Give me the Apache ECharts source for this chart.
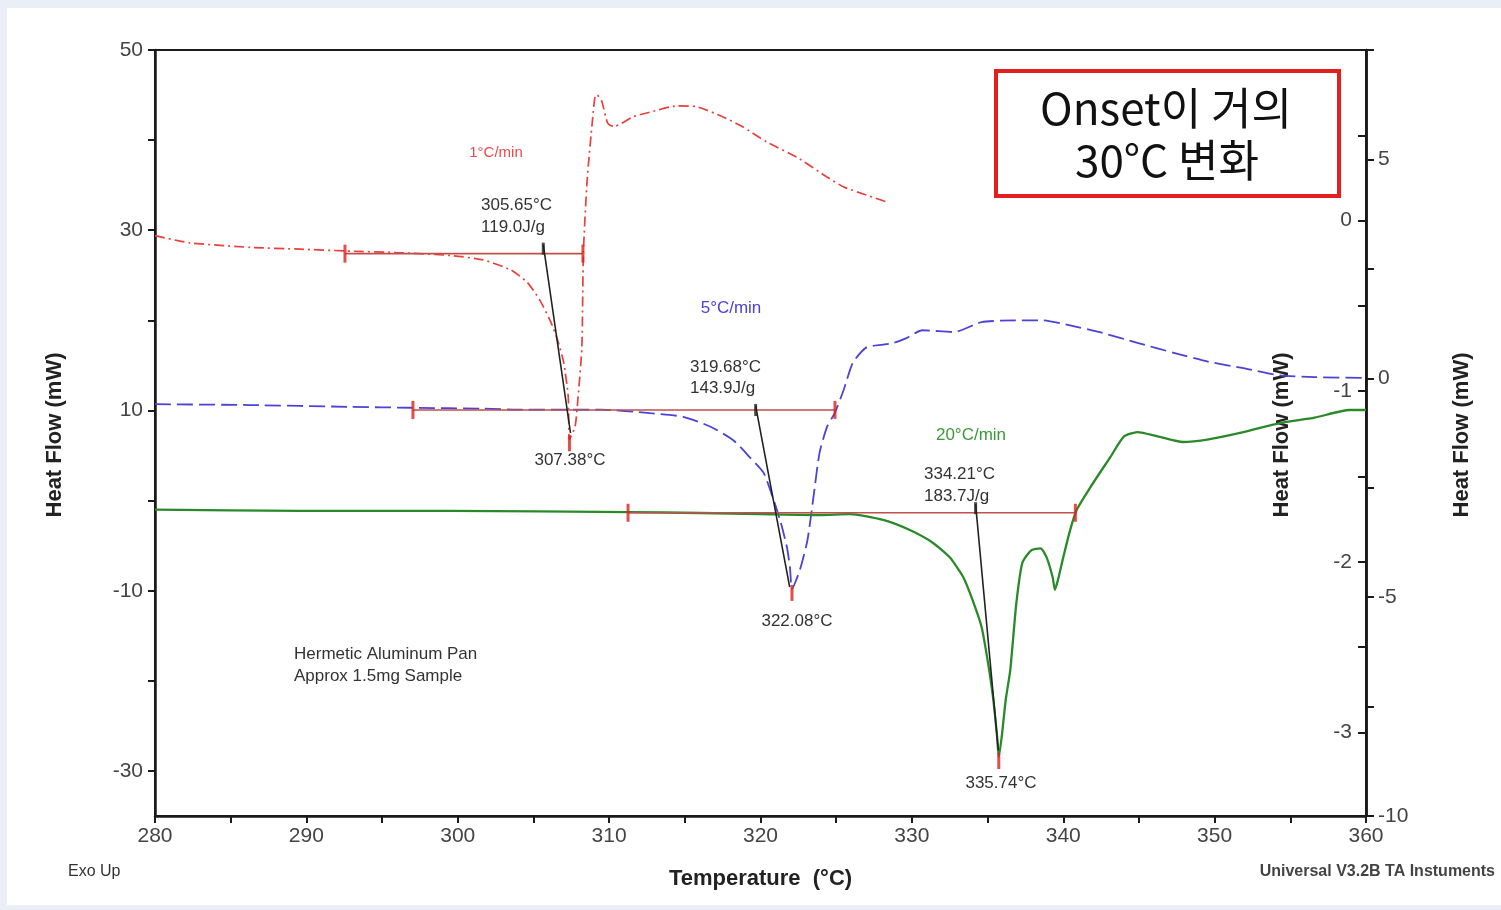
<!DOCTYPE html>
<html>
<head>
<meta charset="utf-8">
<script src="https://cdn.jsdelivr.net/npm/echarts@6/dist/echarts.min.js"></script>
<style>
  html, body { margin: 0; padding: 0; background: #e9eef7; }
  #sheet { position: absolute; left: 7px; top: 8px; width: 1494px; height: 897px; background: #fff; }
  #chart { position: absolute; left: 0; top: 0; width: 1501px; height: 910px; }
</style>
</head>
<body>
<div id="sheet"></div>
<div id="chart"></div>
<script>
// ---- data (temperature in °C, heat flow read on the left mW scale) ----
const rate1Temp = [280.0, 282.3, 286.3, 289.6, 292.6, 296.2, 299.5, 301.7, 303.5, 304.6, 305.4, 306.1, 306.6, 307.0, 307.3, 307.38, 307.75, 307.95, 308.2, 308.3, 308.55, 308.9, 309.1, 309.2, 309.5, 309.9, 310.3, 311.6, 312.7, 314.5, 315.8, 317.5, 318.8, 320.4, 322.4, 324.4, 325.5, 327.0, 328.4];
const rate1Flow = [29.4, 28.6, 28.1, 27.9, 27.7, 27.5, 27.2, 26.7, 25.6, 24.2, 22.3, 20.0, 17.8, 15.3, 11.5, 6.8, 8.2, 11.5, 17.0, 27.5, 35.6, 42.2, 45.0, 45.0, 44.4, 41.9, 41.5, 42.6, 43.1, 43.8, 43.7, 42.6, 41.5, 39.8, 38.1, 35.9, 34.8, 33.9, 33.1];

const rate5Temp = [280.0, 286.3, 292.9, 297.0, 301.7, 303.9, 309.4, 312.7, 314.9, 316.7, 318.2, 319.3, 320.2, 320.8, 321.3, 321.75, 321.95, 322.08, 322.6, 323.1, 323.5, 323.9, 324.4, 324.9, 325.5, 326.1, 327.0, 328.1, 328.8, 329.6, 330.7, 332.8, 334.6, 336.8, 338.6, 340.3, 342.6, 344.9, 347.3, 349.6, 351.9, 354.3, 356.6, 360.0];
const rate5Flow = [10.7, 10.6, 10.4, 10.3, 10.2, 10.1, 10.1, 9.7, 9.3, 8.2, 6.7, 4.8, 3.1, 0.4, -2.2, -5.2, -7.5, -9.8, -7.7, -4.4, 0.4, 5.3, 8.2, 9.7, 12.3, 15.3, 17.0, 17.3, 17.5, 18.0, 18.9, 18.7, 19.8, 20.0, 20.0, 19.5, 18.6, 17.5, 16.4, 15.4, 14.7, 13.9, 13.7, 13.6];

const rate20Temp = [280.0, 289.6, 299.5, 311.25, 316.0, 320.0, 323.9, 325.9, 328.1, 329.9, 331.4, 332.5, 333.4, 334.0, 334.6, 335.0, 335.36, 335.62, 335.74, 335.95, 336.2, 336.5, 336.9, 337.3, 337.9, 338.5, 338.9, 339.3, 339.45, 339.65, 340.0, 340.45, 340.9, 341.8, 343.1, 344.0, 344.9, 346.3, 347.9, 349.6, 351.9, 354.3, 356.6, 358.9, 360.0];
const rate20Flow = [-1.0, -1.15, -1.15, -1.27, -1.38, -1.49, -1.6, -1.5, -2.15, -3.3, -4.7, -6.3, -8.5, -11.0, -14.0, -17.7, -21.8, -26.0, -28.45, -26.0, -22.1, -18.8, -11.4, -6.9, -5.5, -5.3, -6.3, -8.5, -9.9, -8.8, -6.3, -3.3, -1.0, 1.5, 4.8, 7.1, 7.6, 7.1, 6.5, 6.8, 7.6, 8.6, 9.2, 10.05, 10.05];

// peak integration marks: order = 1, 5, 20 °C/min
const baseStart = [292.55, 297.04, 311.25];
const baseEnd = [308.27, 324.92, 340.8];
const baseLevel = [27.4, 10.06, -1.35];
const onsetTemp = [305.65, 319.68, 334.21];
const onsetTop = [28.4, 10.5, -0.4];
const tangentEndTemp = [307.45, 321.93, 335.71];
const tangentEndFlow = [7.5, -9.6, -27.7];
const peakTemp = [307.38, 322.08, 335.74];
const peakFlow = [6.8, -9.8, -28.45];
const enthalpy = ['119.0J/g', '143.9J/g', '183.7J/g'];

// axis ticks
const tempTicks = [280, 285, 290, 295, 300, 305, 310, 315, 320, 325, 330, 335, 340, 345, 350, 355, 360];
const tempLabels = [280, 290, 300, 310, 320, 330, 340, 350, 360];
const leftTicks = [-30, -20, -10, 0, 10, 20, 30, 40, 50];
const leftLabels = [-30, -10, 10, 30, 50];
const inner1Ticks = [-3, -2.5, -2, -1.5, -1, -0.5, 0, 0.5, 1];
const inner1Labels = [-3, -2, -1, 0];
const outer2Ticks = [-10, -7.5, -5, -2.5, 0, 2.5, 5, 7.5];
const outer2Labels = [-10, -5, 0, 5];

const zip = (a, b) => a.map((v, i) => [v, b[i]]);

const FONT = '"Liberation Sans", Arial, sans-serif';
const AX = '#1a1a1a';

const chart = echarts.init(document.getElementById('chart'));

const segs = (xa, ya, xb, yb) => xa.map((x, i) => [[x, ya[i]], [xb[i], yb[i]]]);

function segmentSeries(name, pairs, color, width) {
  // each [start,end] pair is its own segment, split by null gaps
  const data = [];
  pairs.forEach((p, i) => { if (i) data.push(null); data.push(p[0], p[1]); });
  return {
    name, type: 'line', data, showSymbol: false, connectNulls: false,
    lineStyle: { color, width }, silent: true, z: 4
  };
}

const curve = (name, t, f, lineStyle) => ({
  name, type: 'line', data: zip(t, f), showSymbol: false, z: 3,
  smooth: 0.2, lineStyle
});

chart.setOption({
  animation: false,
  grid: { left: 155, top: 50, width: 1211, height: 766, show: true, borderColor: AX, borderWidth: 2, backgroundColor: 'transparent' },
  xAxis: {
    type: 'value', min: 280, max: 360,
    name: 'Temperature  (°C)', nameLocation: 'middle', nameGap: 52,
    nameTextStyle: { fontFamily: FONT, fontSize: 22, fontWeight: 'bold', color: '#222' },
    axisLine: { onZero: false, lineStyle: { color: AX, width: 2.5 } },
    axisTick: { customValues: tempTicks, length: 7, lineStyle: { color: AX, width: 2 } },
    axisLabel: { customValues: tempLabels, fontFamily: FONT, fontSize: 21, color: '#444', margin: 10 },
    splitLine: { show: false }
  },
  yAxis: [
    {
      type: 'value', min: -35, max: 50, position: 'left',
      axisLine: { show: true, onZero: false, lineStyle: { color: AX, width: 2.5 } },
      axisTick: { show: true, customValues: leftTicks, length: 7, lineStyle: { color: AX, width: 2 } },
      axisLabel: { customValues: leftLabels, fontFamily: FONT, fontSize: 21, color: '#444', margin: 12 },
      splitLine: { show: false }
    },
    {
      type: 'value', min: -3.49, max: 1.0, position: 'right',
      axisLine: { show: true, onZero: false, lineStyle: { color: AX, width: 2.5 } },
      axisTick: { show: true, inside: true, customValues: inner1Ticks, length: 8, lineStyle: { color: AX, width: 2 } },
      axisLabel: { inside: true, customValues: inner1Labels, fontFamily: FONT, fontSize: 21, color: '#444', margin: 14 },
      splitLine: { show: false }
    },
    {
      type: 'value', min: -10, max: 7.5, position: 'right',
      axisLine: { show: true, onZero: false, lineStyle: { color: AX, width: 2.5 } },
      axisTick: { show: true, customValues: outer2Ticks, length: 8, lineStyle: { color: AX, width: 2 } },
      axisLabel: { customValues: outer2Labels, fontFamily: FONT, fontSize: 21, color: '#444', margin: 12 },
      splitLine: { show: false }
    }
  ],
  series: [
    segmentSeries('baselines', segs(baseStart, baseLevel, baseEnd, baseLevel), '#c0504d', 1.6),
    curve('1°C/min', rate1Temp, rate1Flow, { color: '#e8413c', width: 1.7, type: [10, 4, 2, 4] }),
    curve('5°C/min', rate5Temp, rate5Flow, { color: '#4a43d6', width: 1.8, type: [16, 6] }),
    curve('20°C/min', rate20Temp, rate20Flow, { color: '#2a8a2a', width: 2.3 }),
    segmentSeries('tangents', segs(onsetTemp, onsetTop, tangentEndTemp, tangentEndFlow), '#222', 1.6),
    {
      name: 'onset marks', type: 'scatter', silent: true, z: 5,
      data: zip(onsetTemp, onsetTop), symbol: 'rect', symbolSize: [3, 12], symbolOffset: [0, 4],
      itemStyle: { color: '#222' }
    },
    {
      name: 'limits', type: 'scatter', silent: true, z: 5,
      data: zip(baseStart, baseLevel).concat(zip(baseEnd, baseLevel)),
      symbol: 'rect', symbolSize: [3, 18], itemStyle: { color: '#e0201c' }
    },
    {
      name: 'peaks', type: 'scatter', silent: true, z: 5,
      data: zip(peakTemp, peakFlow), symbol: 'rect', symbolSize: [3, 16], symbolOffset: [0, 4],
      itemStyle: { color: '#e0201c' }
    }
  ],
  graphic: [
    // axis titles
    { type: 'text', x: 55, y: 435, rotation: Math.PI / 2, style: { text: 'Heat Flow (mW)', font: 'bold 22px ' + FONT, fill: '#222', align: 'center', verticalAlign: 'middle' } },
    { type: 'text', x: 1282, y: 435, rotation: Math.PI / 2, style: { text: 'Heat Flow (mW)', font: 'bold 22px ' + FONT, fill: '#222', align: 'center', verticalAlign: 'middle' } },
    { type: 'text', x: 1462, y: 435, rotation: Math.PI / 2, style: { text: 'Heat Flow (mW)', font: 'bold 22px ' + FONT, fill: '#222', align: 'center', verticalAlign: 'middle' } },
    { type: 'text', x: 68, y: 872, style: { text: 'Exo Up', font: '16px ' + FONT, fill: '#333', verticalAlign: 'middle' } },
    { type: 'text', x: 1495, y: 872, style: { text: 'Universal V3.2B TA Instuments', font: 'bold 16px ' + FONT, fill: '#444', align: 'right', verticalAlign: 'middle' } },
    // rate labels
    { type: 'text', x: 496, y: 153, style: { text: '1°C/min', font: '15px ' + FONT, fill: '#ee4a4a', align: 'center', verticalAlign: 'middle' } },
    { type: 'text', x: 731, y: 308, style: { text: '5°C/min', font: '17px ' + FONT, fill: '#4a43d6', align: 'center', verticalAlign: 'middle' } },
    { type: 'text', x: 971, y: 435, style: { text: '20°C/min', font: '17px ' + FONT, fill: '#3a9a3a', align: 'center', verticalAlign: 'middle' } },
    // onset / enthalpy
    { type: 'text', x: 481, y: 216, style: { text: onsetTemp[0].toFixed(2) + '°C\n' + enthalpy[0], font: '17px ' + FONT, fill: '#333', lineHeight: 22, verticalAlign: 'middle' } },
    { type: 'text', x: 690, y: 378, style: { text: onsetTemp[1].toFixed(2) + '°C\n' + enthalpy[1], font: '17px ' + FONT, fill: '#333', lineHeight: 21, verticalAlign: 'middle' } },
    { type: 'text', x: 924, y: 485, style: { text: onsetTemp[2].toFixed(2) + '°C\n' + enthalpy[2], font: '17px ' + FONT, fill: '#333', lineHeight: 22, verticalAlign: 'middle' } },
    // peak temps
    { type: 'text', x: 570, y: 460, style: { text: peakTemp[0].toFixed(2) + '°C', font: '17px ' + FONT, fill: '#333', align: 'center', verticalAlign: 'middle' } },
    { type: 'text', x: 797, y: 621, style: { text: peakTemp[1].toFixed(2) + '°C', font: '17px ' + FONT, fill: '#333', align: 'center', verticalAlign: 'middle' } },
    { type: 'text', x: 1001, y: 783, style: { text: peakTemp[2].toFixed(2) + '°C', font: '17px ' + FONT, fill: '#333', align: 'center', verticalAlign: 'middle' } },
    // sample note
    { type: 'text', x: 294, y: 665, style: { text: 'Hermetic Aluminum Pan\nApprox 1.5mg Sample', font: '17px ' + FONT, fill: '#333', lineHeight: 22, verticalAlign: 'middle' } },
    // callout box
    { type: 'rect', shape: { x: 996, y: 71, width: 343, height: 125 }, style: { fill: '#fff', stroke: '#e41e1e', lineWidth: 4 }, z: 10 },
    { type: 'text', x: 1166, y: 108, z: 11, style: { text: 'Onset이 거의', font: '44px "Noto Sans CJK KR", sans-serif', fill: '#111', align: 'center', verticalAlign: 'middle' } },
    { type: 'text', x: 1167, y: 160, z: 11, style: { text: '30°C 변화', font: '44px "Noto Sans CJK KR", sans-serif', fill: '#111', align: 'center', verticalAlign: 'middle' } }
  ]
});
</script>
</body>
</html>
